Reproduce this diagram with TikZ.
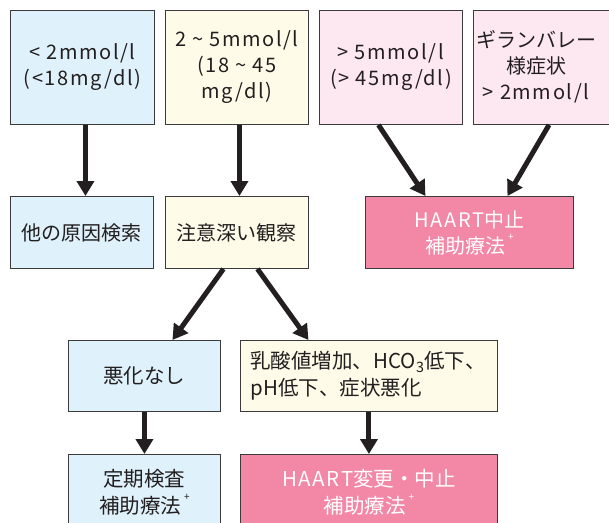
\documentclass[tikz,border=0pt]{standalone}
\usepackage{fontspec}
\setmainfont{Noto Sans CJK JP}
\newfontfamily\lsfont[LetterSpace=8]{Noto Sans CJK JP}
\usetikzlibrary{arrows.meta}
\definecolor{blueL}{HTML}{DFF1FB}
\definecolor{yellowL}{HTML}{FEFBE8}
\definecolor{pinkL}{HTML}{FDE7F1}
\definecolor{pinkD}{HTML}{F287A6}
\definecolor{bordercol}{HTML}{3C3A3B}
\definecolor{txtcol}{HTML}{231F20}
\newcommand{\ls}[1]{{\lsfont #1}}
\newcommand{\plussup}{\hspace{3pt}\raisebox{0.62em}{\fontsize{10}{10}\selectfont +}}
\tikzset{
  box/.style={draw=bordercol, line width=0.9pt, anchor=north west, inner sep=0pt,
    align=center, text=txtcol, font=\fontsize{20}{26}\selectfont},
  lowbox/.style={box, font=\fontsize{20.5}{27}\selectfont},
  lbl/.style={inner sep=0pt, align=center, text=txtcol, font=\fontsize{20}{26}\selectfont},
  arr/.style={line width=5pt, draw=txtcol, -{Triangle[width=17pt,length=15pt]}}
}
\begin{document}
\begin{tikzpicture}[x=1pt,y=-1pt]
\useasboundingbox (0,0) rectangle (609,522);
\fill[white] (0,0) rectangle (609,522);
\clip (0,0) rectangle (609,522);
% row 1
\node[box, fill=blueL, minimum width=144, minimum height=114] (A) at (10,10)
  {\ls{< 2mmol/l}\\\ls{(<18mg/dl)}};
\node[box, fill=yellowL, minimum width=143, minimum height=114] (B) at (165,10)
  {\ls{2 \textasciitilde\ 5mmol/l}\\\ls{(18 \textasciitilde\ 45}\\\ls{mg/dl)}};
\node[box, fill=pinkL, minimum width=143, minimum height=114] (C) at (319,10)
  {\ls{> 5mmol/l}\\\ls{(> 45mg/dl)}};
\node[box, fill=pinkL, minimum width=150, minimum height=114] (D) at (473,10) {};
\node[lbl] (Dt) at (536,67) {ギランバレー\\様症状\\\ls{> 2mmol/l}};
% row 2
\node[box, fill=blueL, minimum width=143, minimum height=72] (E) at (10,196) {他の原因検索};
\node[box, fill=yellowL, minimum width=143, minimum height=72] (F) at (165,196) {注意深い観察};
\node[box, fill=pinkD, text=white, minimum width=208, minimum height=72] (G) at (365,196)
  {\ls{HAART}中止\\補助療法\plussup};
% row 3
\node[lowbox, fill=blueL, minimum width=152, minimum height=71] (H) at (68,340) {悪化なし};
\node[lowbox, fill=yellowL, minimum width=257, minimum height=71, text width=237pt,
  inner xsep=10pt, align=left] (I) at (240,340)
  {乳酸値増加、HCO\textsubscript{3}低下、\\pH低下、症状悪化};
% row 4
\node[lowbox, fill=blueL, minimum width=152, minimum height=75] (J) at (68,454)
  {定期検査\\補助療法\plussup};
\node[lowbox, fill=pinkD, text=white, minimum width=257, minimum height=75] (K) at (240,454)
  {\ls{HAART}変更・中止\\補助療法\plussup};
% arrows
\draw[arr] ([xshift=3pt]A.south) -- ([xshift=3pt]A.south |- E.north);
\draw[arr] ([xshift=2.5pt]B.south) -- ([xshift=2.5pt]B.south |- F.north);
\draw[arr] ([xshift=-12.5pt]C.south) -- ([xshift=-44pt]G.north);
\draw[arr] ([xshift=76pt]D.south west) -- ([xshift=38pt]G.north);
\draw[arr] ([xshift=-13.5pt]F.south) -- ([xshift=28pt]H.north);
\draw[arr] ([xshift=20.5pt]F.south) -- ([xshift=-60.5pt]I.north);
\draw[arr] (H.south) -- (J.north);
\draw[arr] (I.south) -- (K.north);
\end{tikzpicture}
\end{document}
